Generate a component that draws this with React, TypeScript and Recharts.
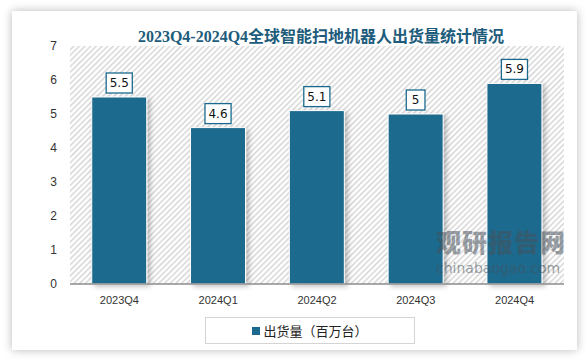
import { BarChart, Bar, XAxis, YAxis, CartesianGrid, Legend, LabelList } from "recharts"

const quarters = ["2023Q4", "2024Q1", "2024Q2", "2024Q3", "2024Q4"]
const shipments = [5.5, 4.6, 5.1, 5, 5.9]
const yTicks = [0, 1, 2, 3, 4, 5, 6, 7]
const seriesName = "出货量（百万台）"
const title = "2023Q4-2024Q4全球智能扫地机器人出货量统计情况"

const BAR = "#1b6a8e"

const data = quarters.map((q, i) => ({ quarter: q, value: shipments[i] }))

function ValueBox(props: any) {
  const { x, y, width, value } = props
  const label = String(value)
  const w = 15 + label.length * 3.7
  const h = 20
  const cx = x + width / 2
  const top = y - 4 - h
  return (
    <g>
      <rect x={cx - w / 2} y={top} width={w} height={h} fill="#fff" stroke={BAR} strokeWidth={1.3} />
      <text
        x={cx}
        y={top + h / 2 + 4}
        textAnchor="middle"
        fontSize={12}
        fontFamily="DejaVu Sans, sans-serif"
        fill="#111"
      >
        {label}
      </text>
    </g>
  )
}

function LegendBox() {
  return (
    <div
      style={{
        width: 208,
        height: 25,
        border: "1px solid #d4d4d4",
        display: "flex",
        alignItems: "center",
        justifyContent: "center",
        fontFamily: "'Noto Sans CJK SC', sans-serif",
        fontSize: 13,
        color: "#222",
        background: "#fff",
      }}
    >
      <span style={{ width: 8, height: 8, background: BAR, display: "inline-block", marginRight: 3 }} />
      {seriesName}
    </div>
  )
}

export default function App() {
  return (
    <div style={{ position: "fixed", left: 0, top: 0, width: 588, height: 360, background: "#fff", overflow: "hidden" }}>
      <svg width={1} height={1} style={{ position: "absolute", left: 0, top: 0 }}>
        <defs>
          <pattern id="hatch" x="0" y="0" width="4" height="4" patternUnits="userSpaceOnUse" patternTransform="rotate(45)">
            <rect x="0" y="0" width="1.4" height="4" fill="#d3d3d3" />
          </pattern>
          <filter id="barShadow" x="-20%" y="-20%" width="150%" height="150%">
            <feDropShadow dx="3" dy="2" stdDeviation="2.5" floodColor="#000" floodOpacity="0.25" />
          </filter>
        </defs>
      </svg>
      <div
        style={{
          position: "absolute",
          left: 12,
          top: 11,
          width: 565,
          height: 339,
          background: "#fff",
          boxShadow: "0 0 9px rgba(0,0,0,0.28)",
        }}
      />
      <div
        style={{
          position: "absolute",
          left: 0,
          top: 23,
          width: 642,
          textAlign: "center",
          fontSize: 16,
          fontWeight: 700,
          color: "#1d5c7b",
          fontFamily: "'Liberation Serif', 'Noto Sans CJK SC', serif",
        }}
      >
        {title}
      </div>
      <div style={{ position: "absolute", left: 0, top: 0 }}>
        <BarChart
          width={588}
          height={360}
          data={data}
          margin={{ top: 46, right: 24, left: 20, bottom: 19 }}
          barCategoryGap="22%"
        >
          <CartesianGrid
            vertical={false}
            horizontal={true}
            stroke="none"
            fill="url(#hatch)"
            fillOpacity={1}
          />
          <XAxis
            dataKey="quarter"
            axisLine={{ stroke: "#8c8c8c", strokeWidth: 1.5 }}
            tickLine={false}
            tickSize={0}
            tickMargin={12}
            tick={{ fontSize: 11, fill: "#333", fontFamily: "Liberation Sans, sans-serif" }}
          />
          <YAxis
            width={50}
            domain={[0, 7]}
            ticks={yTicks}
            axisLine={false}
            tickLine={false}
            tickSize={6}
            tickMargin={7}
            tick={{ fontSize: 12, fill: "#333", fontFamily: "Liberation Sans, sans-serif" }}
          />
          <Legend
            verticalAlign="bottom"
            wrapperStyle={{ left: 205, bottom: 16, width: 210 }}
            content={() => <LegendBox />}
          />
          <Bar
            dataKey="value"
            name={seriesName}
            fill={BAR}
            stroke="#fff"
            strokeWidth={1}
            filter="url(#barShadow)"
            isAnimationActive={false}
          >
            <LabelList dataKey="value" content={<ValueBox />} />
          </Bar>
        </BarChart>
      </div>
      <div
        style={{
          position: "absolute",
          left: 436,
          top: 229,
          color: "rgba(70,80,90,0.55)",
          fontFamily: "'Noto Sans CJK SC', sans-serif",
          lineHeight: 1,
          pointerEvents: "none",
        }}
      >
        <div style={{ fontSize: 25, fontWeight: 900, letterSpacing: 1, height: 30 }}>观研报告网</div>
        <div style={{ fontSize: 14, fontFamily: "DejaVu Sans, sans-serif", marginTop: 2 }}>chinabaogao.com</div>
      </div>
    </div>
  )
}
